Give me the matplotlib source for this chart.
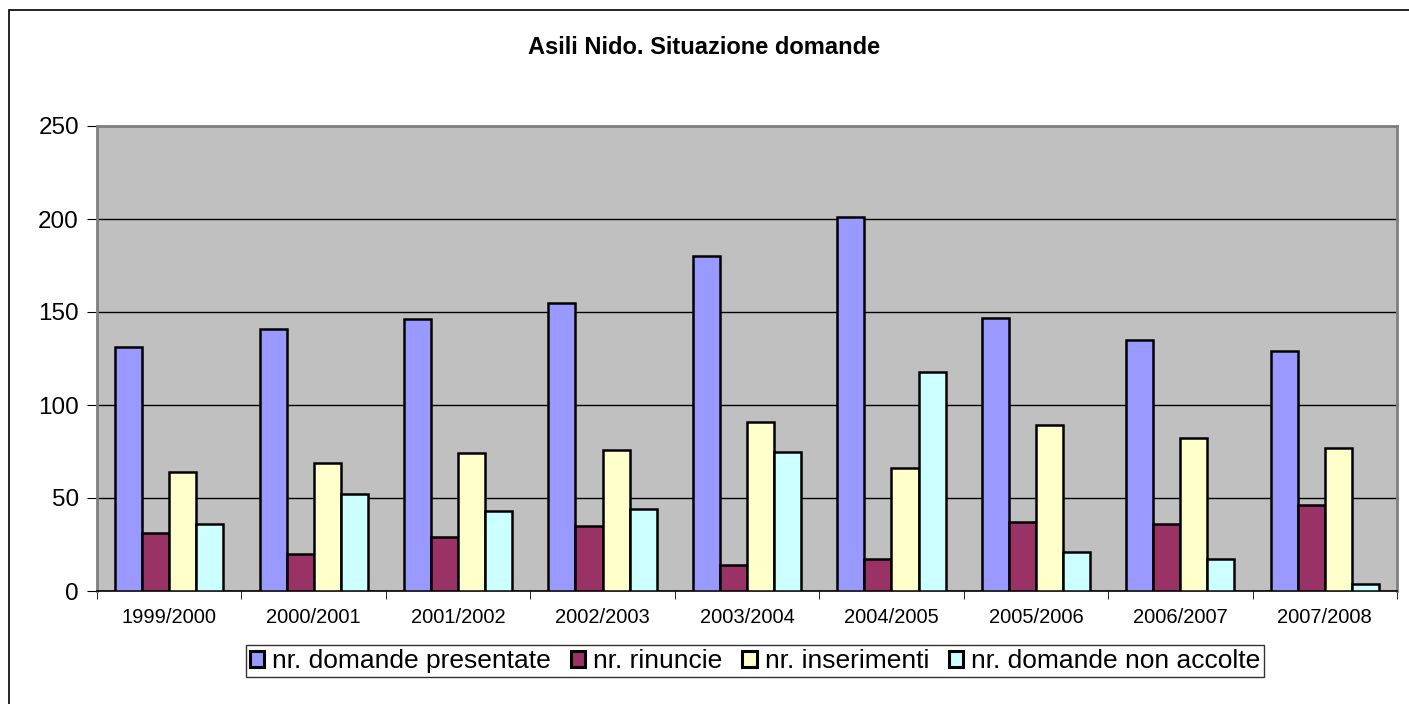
import numpy as np
import matplotlib
matplotlib.use("Agg")
import matplotlib.pyplot as plt
from matplotlib.patches import Rectangle

plt.rcParams['font.family'] = ['Liberation Sans', 'DejaVu Sans']

years = ["1999/2000", "2000/2001", "2001/2002", "2002/2003", "2003/2004",
         "2004/2005", "2005/2006", "2006/2007", "2007/2008"]
presentate = [131, 141, 146, 155, 180, 201, 147, 135, 129]
rinuncie = [31, 20, 29, 35, 14, 17, 37, 36, 46]
inserimenti = [64, 69, 74, 76, 91, 66, 89, 82, 77]
non_accolte = [36, 52, 43, 44, 75, 118, 21, 17, 4]

series = [
    ("nr. domande presentate", presentate, "#9999FF"),
    ("nr. rinuncie", rinuncie, "#993366"),
    ("nr. inserimenti", inserimenti, "#FFFFCC"),
    ("nr. domande non accolte", non_accolte, "#CCFFFF"),
]

W, H = 1409, 704
fig = plt.figure(figsize=(W / 100, H / 100), dpi=100)
# outer chart border (runs off the right and bottom edges)
fig.patches.append(Rectangle((9 / W, -0.05), 1.1, 1 - 10 / H + 0.05, transform=fig.transFigure,
                             fill=False, edgecolor="black", linewidth=1.2))

ax = fig.add_axes([97 / W, 1 - 591 / H, 1300 / W, 465 / H])
ax.set_facecolor("#C0C0C0")

x = np.arange(len(years))
w = 0.1875
for i, (label, vals, color) in enumerate(series):
    ax.bar(x + (i - 1.5) * w, vals, width=w, color=color, edgecolor="black",
           linewidth=1.8, label=label, zorder=3)

ax.set_xlim(-0.5, len(years) - 0.5)
ax.set_ylim(0, 250)
ax.set_yticks(range(0, 251, 50))
ax.yaxis.grid(True, color="black", linewidth=1.0, zorder=1)
ax.set_axisbelow(True)

ax.set_xticks(x)
ax.set_xticklabels(years, fontsize=14.5)
ax.set_xticks(np.arange(-0.5, len(years), 1), minor=True)
ax.tick_params(axis="x", which="major", length=0, pad=12)
ax.tick_params(axis="x", which="minor", length=6, direction="out", color="black")
ax.tick_params(axis="y", labelsize=17.5, length=7, direction="out", pad=6)

for side in ["top", "right", "left"]:
    ax.spines[side].set_color("#808080")
    ax.spines[side].set_linewidth(2)
ax.spines["bottom"].set_color("black")
ax.spines["bottom"].set_linewidth(1.2)

fig.text(0.5, 1 - 47 / H, "Asili Nido. Situazione domande", ha="center", va="center",
         fontsize=17, fontweight="bold")

leg = fig.legend(loc="center", bbox_to_anchor=(755 / W, 1 - 661 / H), ncol=4,
                 fontsize=19, frameon=True, fancybox=False, edgecolor="black",
                 handlelength=0.55, handleheight=0.55, handletextpad=0.3, columnspacing=0.75,
                 borderpad=0.15, borderaxespad=0)
leg.get_frame().set_linewidth(1.0)
for h in leg.legend_handles:
    h.set_linewidth(2.2)

fig.savefig("out.png", dpi=100, facecolor="white")
